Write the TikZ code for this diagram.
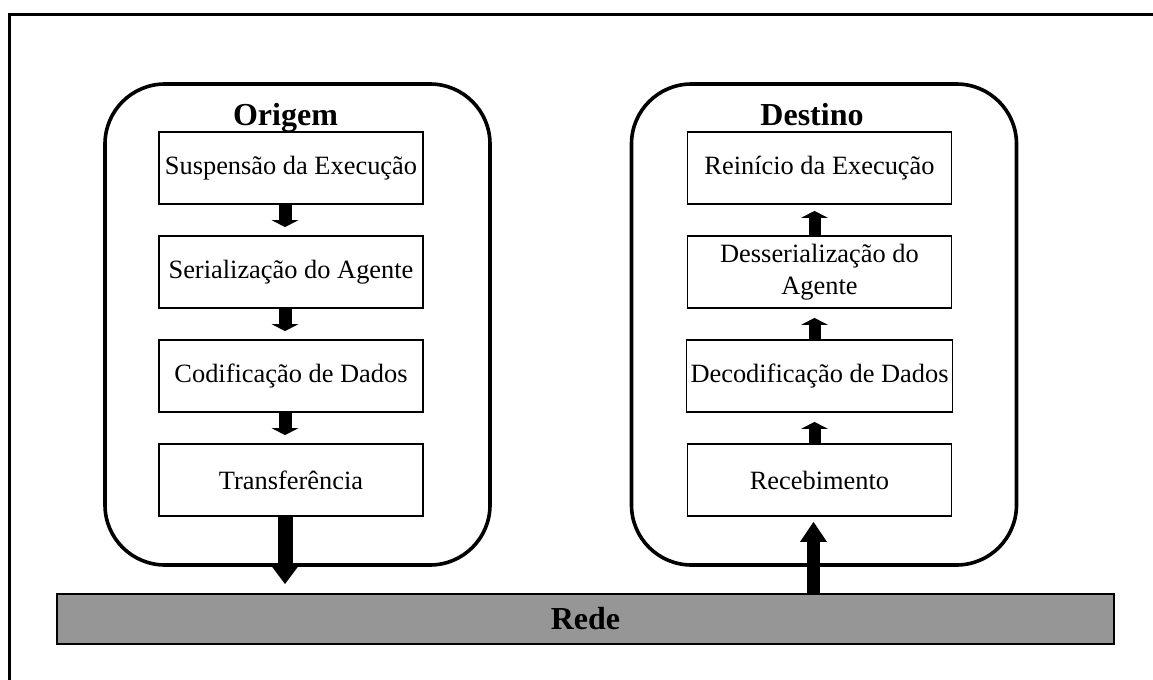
\documentclass[tikz,border=0pt]{standalone}
\usepackage{fontspec}
\setmainfont{Liberation Serif}
\usepackage{xcolor}
\usepackage{tikz}
\usetikzlibrary{positioning,arrows.meta}
\definecolor{redecinza}{RGB}{150,150,150}

\begin{document}
\begin{tikzpicture}[x=0.5pt, y=-0.5pt,
    etapa/.style={draw, line width=0.9pt, minimum width=132pt, minimum height=36pt, inner sep=2pt, align=center, font=\fontsize{13.2}{16}\selectfont},
    moldura/.style={draw, line width=1.8pt, rounded corners=30pt, minimum width=192.5pt, minimum height=240.5pt},
    titulo/.style={anchor=base, font=\fontsize{16}{19}\selectfont\bfseries},
    seta/.style={line width=6.5pt, -{Triangle[width=13.5pt, length=3.5pt, line width=0pt]}},
    setagrande/.style={line width=7.5pt, -{Triangle[width=13.5pt, length=9pt, line width=0pt]}}]
    \useasboundingbox (0,0) rectangle (1153,680);
    % Outer frame (only left and top edges fall on the page)
    \draw[line width=1.5pt] (9.5,680) -- (9.5,14.5) -- (1153,14.5);

    % Origem
    \node[moldura] (origem) at (297.5,324.5) {};
    \node[titulo] (torigem) at (285.5,125) {Origem};
    \node[etapa] (o1) at (291,168) {Suspensão da Execução};
    \node[etapa] (o2) at (291,272) {Serialização do Agente};
    \node[etapa] (o3) at (291,376) {Codificação de Dados};
    \node[etapa] (o4) at (291,480) {Transferência};

    % Destino
    \node[moldura] (destino) at (824,324.5) {};
    \node[titulo] (tdestino) at (812,125) {Destino};
    \node[etapa] (d1) at (819.5,168) {Reinício da Execução};
    \node[etapa] (d2) at (819.5,272) {Desserialização do\\Agente};
    \node[etapa] (d3) at (819.5,376) {Decodificação de Dados};
    \node[etapa] (d4) at (819.5,480) {Recebimento};

    % Rede
    \node[draw, line width=1pt, fill=redecinza, minimum width=528.5pt, minimum height=25pt,
          font=\fontsize{16}{19}\selectfont\bfseries] (rede) at (585.5,619) {Rede};

    % Setas
    \draw[seta, shorten >=4pt] ([xshift=-3pt]o1.south) -- ([xshift=-3pt]o2.north);
    \draw[seta, shorten >=4pt] ([xshift=-3pt]o2.south) -- ([xshift=-3pt]o3.north);
    \draw[seta, shorten >=4pt] ([xshift=-3pt]o3.south) -- ([xshift=-3pt]o4.north);
    \draw[setagrande, shorten >=4.5pt] ([xshift=-3pt]o4.south) -- ([xshift=-3pt]o4.south |- rede.north);
    \draw[seta, line width=6pt, shorten >=3pt] ([xshift=-2.5pt]d2.north) -- ([xshift=-2.5pt]d1.south);
    \draw[seta, line width=6pt, shorten >=4.5pt] ([xshift=-2.5pt]d3.north) -- ([xshift=-2.5pt]d2.south);
    \draw[seta, line width=6pt, shorten >=4.5pt] ([xshift=-2.5pt]d4.north) -- ([xshift=-2.5pt]d3.south);
    \draw[setagrande, line width=6.75pt, -{Triangle[width=13.5pt, length=10pt, line width=0pt]}, shorten >=2.5pt]
        ([xshift=-3pt]d4.south |- rede.north) -- ([xshift=-3pt]d4.south);
\end{tikzpicture}
\end{document}
